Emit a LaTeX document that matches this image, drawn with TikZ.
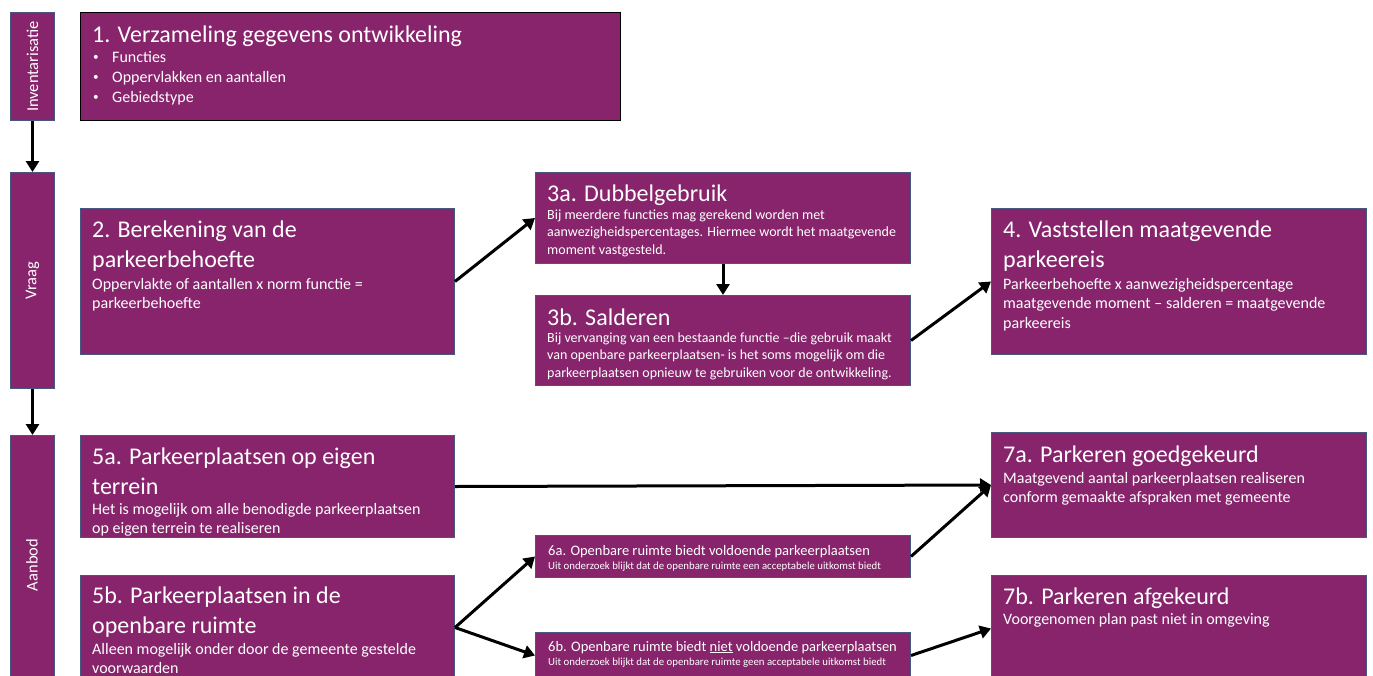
\documentclass[tikz,border=0pt]{standalone}
\usepackage{fontspec}
\setmainfont{Carlito}
\usetikzlibrary{arrows.meta}
\definecolor{pp}{RGB}{135,36,108}
\definecolor{bordercol}{RGB}{70,88,130}
\newcommand\FTitle{\fontsize{24}{29.5}\selectfont}
\newcommand\FBody{\fontsize{16}{19.5}\selectfont}
\newcommand\FBodyA{\fontsize{16}{20}\selectfont}
\newcommand\FMid{\fontsize{14}{17.5}\selectfont}
\newcommand\FSix{\fontsize{14.5}{16}\selectfont}
\newcommand\FSmall{\fontsize{10.8}{12}\selectfont}
\newcommand\FSide{\fontsize{16.5}{18}\selectfont}
\newcommand\Bul{\hspace{1pt}\makebox[19pt][l]{\raisebox{1.5pt}{\scalebox{0.7}{•}}}}
\tikzset{
  box/.style={draw=bordercol, line width=1pt, fill=pp, anchor=north west, inner sep=0pt},
  tt/.style={text=white, inner sep=0pt, anchor=base west, align=left},
  sidetxt/.style={text=white, inner sep=0pt, rotate=90, font=\FSide},
  arr/.style={line width=3pt, -{Triangle[length=11pt,width=13pt]}},
}
\begin{document}
\begin{tikzpicture}[x=1pt,y=-1pt]
\clip (0,0) rectangle (1373,675);
\fill[white] (0,0) rectangle (1373,675);
% side boxes
\node[box, minimum width=44, minimum height=108] (s1) at (10,12) {};
\node[box, minimum width=44, minimum height=216] (s2) at (10,172) {};
\node[box, minimum width=44, minimum height=260] (s3) at (10,435) {};
\node[sidetxt] (s1t) at (s1.center) {Inventarisatie};
\node[sidetxt] (s2t) at (s2.center) {Vraag};
\node[sidetxt] (s3t) at (32,565) {Aanbod};
% main boxes
\node[box, draw=black, minimum width=540, minimum height=108] (b1) at (80,12) {};
\node[box, minimum width=374, minimum height=146] (b2) at (80,208) {};
\node[box, minimum width=375, minimum height=91] (b3a) at (535,172) {};
\node[box, minimum width=375, minimum height=90] (b3b) at (535,295) {};
\node[box, minimum width=375, minimum height=146] (b4) at (991,208) {};
\node[box, minimum width=374, minimum height=102] (b5a) at (80,435) {};
\node[box, minimum width=374, minimum height=104] (b5b) at (80,575) {};
\node[box, minimum width=375, minimum height=42] (b6a) at (535,535) {};
\node[box, minimum width=375, minimum height=46] (b6b) at (535,632) {};
\node[box, minimum width=375, minimum height=105] (b7a) at (991,432) {};
\node[box, minimum width=375, minimum height=106] (b7b) at (991,575) {};
% texts (base anchor = baseline of the last line)
\node[tt, font=\FTitle] (t1) at (92,42) {1. Verzameling gegevens ontwikkeling};
\node[tt, font=\FBodyA] (t1b) at (92,102) {\Bul Functies\\
\Bul Oppervlakken en aantallen\\
\Bul Gebiedstype};
\node[tt, font=\FTitle] (t2) at (92,267) {2. Berekening van de\\parkeerbehoefte};
\node[tt, font=\FBody] (t2b) at (92,308.5) {Oppervlakte of aantallen x norm functie =\\parkeerbehoefte};
\node[tt, font=\FTitle] (t3a) at (547,201) {3a. Dubbelgebruik};
\node[tt, font=\FMid] (t3ab) at (547,254) {Bij meerdere functies mag gerekend worden met\\aanwezigheidspercentages. Hiermee wordt het maatgevende\\moment vastgesteld.};
\node[tt, font=\FTitle] (t3b) at (547,325) {3b. Salderen};
\node[tt, font=\FMid] (t3bb) at (547,377) {Bij vervanging van een bestaande functie --die gebruik maakt\\van openbare parkeerplaatsen- is het soms mogelijk om die\\parkeerplaatsen opnieuw te gebruiken voor de ontwikkeling.};
\node[tt, font=\FTitle] (t4) at (1003,267) {4. Vaststellen maatgevende\\parkeereis};
\node[tt, font=\FBody] (t4b) at (1003,328) {Parkeerbehoefte x aanwezigheidspercentage\\maatgevende moment -- salderen = maatgevende\\parkeereis};
\node[tt, font=\FTitle] (t5a) at (92,494) {5a. Parkeerplaatsen op eigen\\terrein};
\node[tt, font=\FBody] (t5ab) at (92,533.5) {Het is mogelijk om alle benodigde parkeerplaatsen\\op eigen terrein te realiseren};
\node[tt, font=\FTitle] (t5b) at (92,633) {5b. Parkeerplaatsen in de\\openbare ruimte};
\node[tt, font=\FBody] (t5bb) at (92,673.5) {Alleen mogelijk onder door de gemeente gestelde\\voorwaarden};
\node[tt, font=\FSix] (t6a) at (548,555) {6a. Openbare ruimte biedt voldoende parkeerplaatsen};
\node[tt, font=\FSmall] (t6ab) at (548,569) {Uit onderzoek blijkt dat de openbare ruimte een acceptabele uitkomst biedt};
\node[tt, font=\FSix] (t6b) at (548,651) {6b. Openbare ruimte biedt \underline{niet} voldoende parkeerplaatsen};
\node[tt, font=\FSmall] (t6bb) at (548,665) {Uit onderzoek blijkt dat de openbare ruimte geen acceptabele uitkomst biedt};
\node[tt, font=\FTitle] (t7a) at (1003,462) {7a. Parkeren goedgekeurd};
\node[tt, font=\FBody] (t7ab) at (1003,502.5) {Maatgevend aantal parkeerplaatsen realiseren\\conform gemaakte afspraken met gemeente};
\node[tt, font=\FTitle] (t7b) at (1003,604) {7b. Parkeren afgekeurd};
\node[tt, font=\FBody] (t7bb) at (1003,624) {Voorgenomen plan past niet in omgeving};
% arrows
\draw[arr] (s1.south) -- (s2.north);
\draw[arr] (s2.south) -- (s3.north);
\draw[arr] (b2.east) -- (b3a.west);
\draw[arr] (b3a.south) -- (b3b.north);
\draw[arr] (b3b.east) -- (b4.west);
\draw[arr] (b5a.east) -- (b7a.west);
\draw[arr] (b6a.east) -- (b7a.west);
\draw[arr] (b5b.east) -- (b6a.west);
\draw[arr] (b5b.east) -- (b6b.west);
\draw[arr] (b6b.east) -- (b7b.west);
\end{tikzpicture}
\end{document}
